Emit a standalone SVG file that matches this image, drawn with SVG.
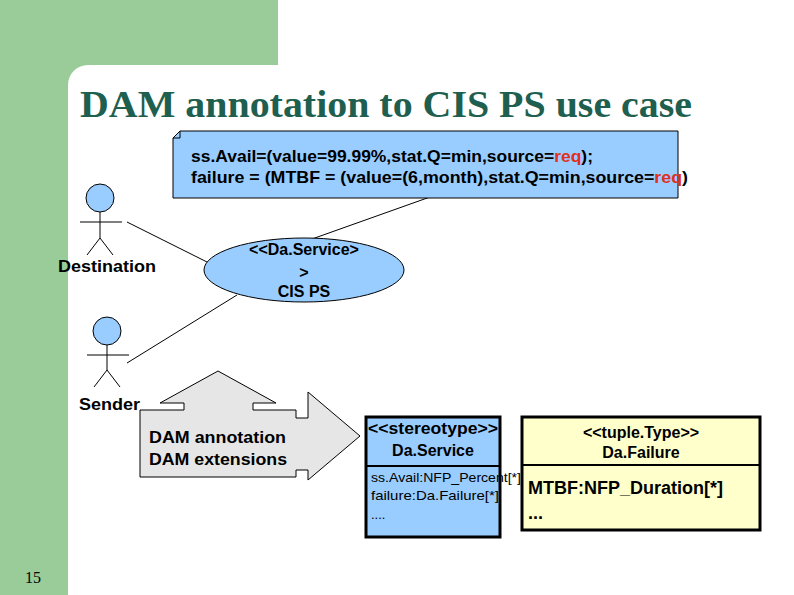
<svg xmlns="http://www.w3.org/2000/svg" width="794" height="595" viewBox="0 0 794 595">
<style>
.t{font-family:"Liberation Sans",Arial,sans-serif;font-weight:bold;fill:#000}
.n{font-family:"Liberation Sans",Arial,sans-serif;fill:#000}
.ln{stroke:#000;stroke-width:1;fill:none}
.act{stroke:#000;stroke-width:1;fill:none}
</style>
<rect width="794" height="595" fill="#fff"/>
<path d="M0 0H278V65H88A20 20 0 0 0 68 85V595H0Z" fill="#99cc99"/>
<text x="80" y="117" textLength="612" lengthAdjust="spacingAndGlyphs" font-family="Liberation Serif,serif" font-weight="bold" font-size="37" fill="#1f5f4f">DAM annotation to CIS PS use case</text>
<g id="connectors" class="ln">
<line x1="127" y1="222" x2="207" y2="262"/>
<line x1="237" y1="295" x2="127" y2="363"/>
<line x1="430" y1="197" x2="312" y2="239"/>
</g>
<g id="note">
<path d="M180 131H678V198H173V138Z" fill="#99ccff" stroke="#000"/>
<path d="M180 131V138H173" fill="none" stroke="#000"/>
<text class="t" font-size="17" x="191" y="162" textLength="402" lengthAdjust="spacingAndGlyphs">ss.Avail=(value=99.99%,stat.Q=min,source=<tspan fill="#e03020">req</tspan>);</text>
<text class="t" font-size="17" x="191" y="183" textLength="497" lengthAdjust="spacingAndGlyphs">failure = (MTBF = (value=(6,month),stat.Q=min,source=<tspan fill="#e03020">req</tspan>)</text>
</g>
<g id="usecase">
<ellipse cx="304" cy="270" rx="100" ry="32" fill="#99ccff" stroke="#000"/>
<text class="t" font-size="16" x="304" y="255" text-anchor="middle">&lt;&lt;Da.Service&gt;</text>
<text class="t" font-size="16" x="304" y="278" text-anchor="middle">&gt;</text>
<text class="t" font-size="16" x="304" y="297" text-anchor="middle">CIS PS</text>
</g>
<g id="destination">
<circle cx="100" cy="198" r="14" fill="#99ccff" stroke="#000"/>
<path class="act" d="M100 212V238M80 222H122M100 238L87 255M100 238L113 255"/>
<text class="t" font-size="17" x="58" y="272" textLength="98" lengthAdjust="spacingAndGlyphs">Destination</text>
</g>
<g id="sender">
<circle cx="107" cy="331" r="14" fill="#99ccff" stroke="#000"/>
<path class="act" d="M107 345V370M87 355H129M107 370L94 387M107 370L120 387"/>
<text class="t" font-size="17" x="79" y="410" textLength="61" lengthAdjust="spacingAndGlyphs">Sender</text>
</g>
<g id="blockarrow">
<polygon points="140,410 184,410 184,403 160,403 218,371 276,403 253,403 253,410 296,410 296,418 308,418 308,392 360,436 308,480 308,470 296,470 296,477 140,477" fill="#e6e6e6" stroke="#000"/>
<text class="t" font-size="17" x="149" y="443" textLength="137" lengthAdjust="spacingAndGlyphs">DAM annotation</text>
<text class="t" font-size="17" x="149" y="465" textLength="138" lengthAdjust="spacingAndGlyphs">DAM extensions</text>
</g>
<g id="daservice">
<rect x="366" y="417" width="134" height="120" fill="#99ccff" stroke="#000" stroke-width="3"/>
<line x1="366" y1="466" x2="500" y2="466" stroke="#000" stroke-width="2"/>
<text class="t" font-size="16" x="433" y="434" text-anchor="middle" textLength="130" lengthAdjust="spacingAndGlyphs">&lt;&lt;stereotype&gt;&gt;</text>
<text class="t" font-size="16" x="433" y="456" text-anchor="middle">Da.Service</text>
<text class="n" font-size="13" x="371" y="482" textLength="150" lengthAdjust="spacingAndGlyphs">ss.Avail:NFP_Percent[*]</text>
<text class="n" font-size="13" x="371" y="500" textLength="128" lengthAdjust="spacingAndGlyphs">failure:Da.Failure[*]</text>
<text class="n" font-size="13" x="371" y="519">....</text>
</g>
<g id="dafailure">
<rect x="522" y="417" width="238" height="113" fill="#ffffcc" stroke="#000" stroke-width="3"/>
<line x1="522" y1="465" x2="760" y2="465" stroke="#000" stroke-width="2"/>
<text class="t" font-size="16" x="641" y="438" text-anchor="middle">&lt;&lt;tuple.Type&gt;&gt;</text>
<text class="t" font-size="16" x="641" y="458" text-anchor="middle">Da.Failure</text>
<text class="t" font-size="18" x="528" y="494" textLength="195" lengthAdjust="spacingAndGlyphs">MTBF:NFP_Duration[*]</text>
<text class="t" font-size="18" x="528" y="519">...</text>
</g>
<text x="33" y="583" text-anchor="middle" font-family="Liberation Serif,serif" font-size="16" fill="#000">15</text>
</svg>
